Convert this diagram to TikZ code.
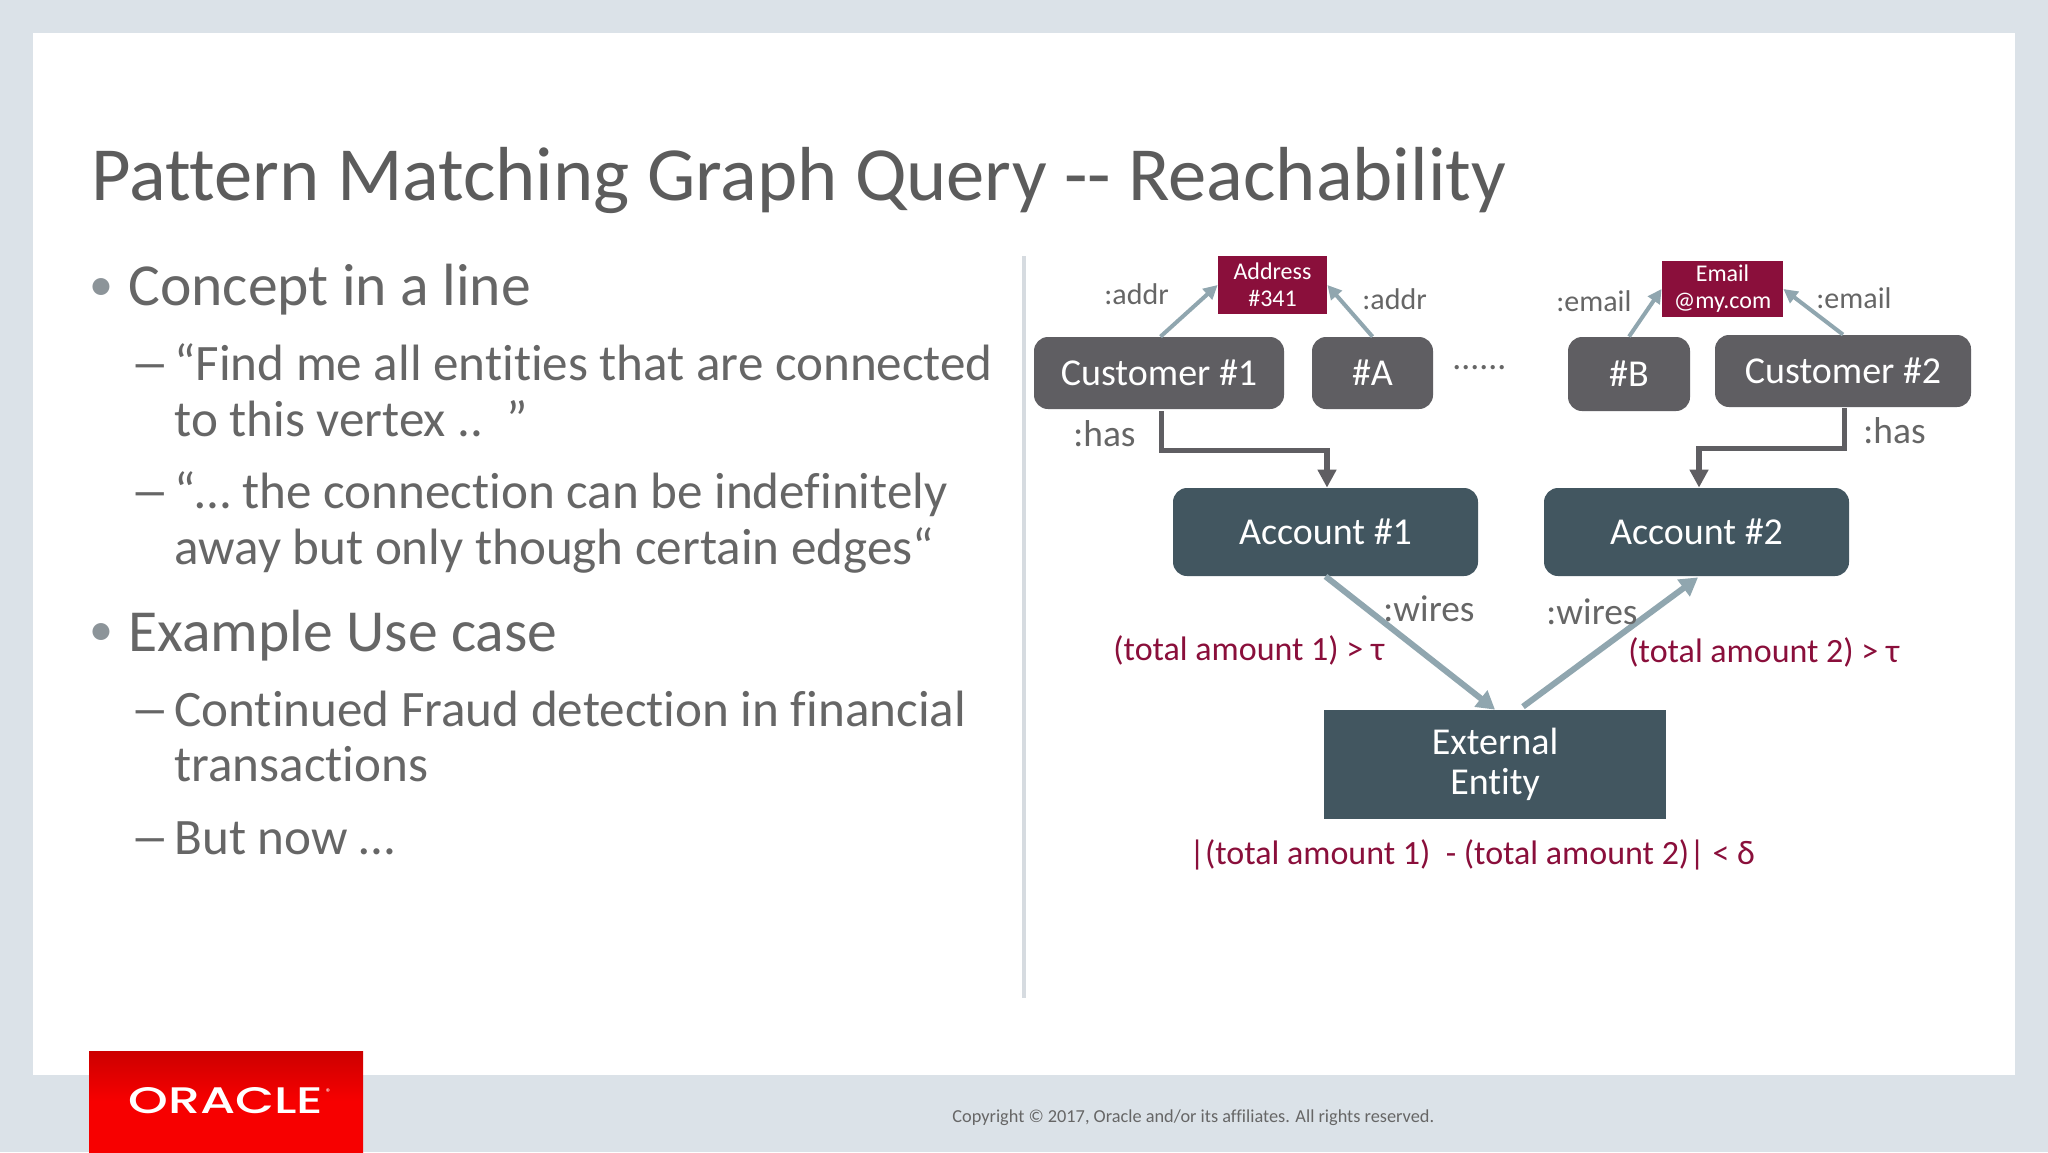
\documentclass[tikz,border=0pt]{standalone}
\usepackage{fontspec}
\setmainfont{Carlito}[Ligatures={NoCommon}]
\newfontfamily\logofont{Poppins Medium}
\usetikzlibrary{arrows.meta,calc}
\definecolor{bgblue}{HTML}{DBE2E8}
\definecolor{inktext}{HTML}{666666}
\definecolor{titleink}{HTML}{5C5C5C}
\definecolor{custgray}{HTML}{5F5E62}
\definecolor{acctslate}{HTML}{425660}
\definecolor{arrowblue}{HTML}{90A6AF}
\definecolor{maroon}{HTML}{8A0F3B}
\definecolor{rulegray}{HTML}{D6DBE0}
\definecolor{dotgray}{HTML}{8C9499}
\tikzset{
  cust/.style={fill=custgray,text=white,rounded corners=7pt,inner sep=0pt,font=\fontsize{19}{20}\selectfont},
  acct/.style={fill=acctslate,text=white,rounded corners=7pt,inner sep=0pt,font=\fontsize{19}{20}\selectfont},
  extbox/.style={fill=acctslate,text=white,inner sep=0pt,align=center,font=\fontsize{19}{20}\selectfont},
  tagbox/.style={fill=maroon,text=white,inner sep=0pt,align=center,font=\fontsize{12}{13.5}\selectfont},
  edgelbl/.style={text=inktext,anchor=base west,inner sep=0pt,font=\fontsize{15}{18}\selectfont},
  has/.style={text=inktext,anchor=base west,inner sep=0pt,font=\fontsize{18.7}{20}\selectfont},
  cond/.style={text=maroon,anchor=base west,inner sep=0pt,font=\fontsize{17}{20}\selectfont},
  bulletone/.style={text=inktext,anchor=base west,inner sep=0pt,font=\fontsize{29.8}{30}\selectfont},
  bullettwo/.style={text=inktext,anchor=base west,inner sep=0pt,font=\fontsize{25.55}{28}\selectfont},
  bulletmark/.style={text=dotgray,anchor=base west,inner sep=0pt,font=\fontsize{24}{30}\selectfont},
  thinarrow/.style={draw=arrowblue,line width=2pt,-{Triangle[length=7pt,width=7pt]}},
  thickarrow/.style={draw=arrowblue,line width=3pt,-{Triangle[length=9pt,width=10pt]}},
  elbow/.style={draw=custgray,line width=2.8pt,-{Triangle[length=9pt,width=9pt]}},
}
\newcommand{\longdash}{\scalebox{1.55}[1]{–}}
\begin{document}
\begin{tikzpicture}[x=0.5pt,y=-0.5pt]
\useasboundingbox (0,0) rectangle (2048,1152);
\fill[bgblue] (0,0) rectangle (2048,1152);
\fill[white] (33,33) rectangle (2015,1075);
\draw[rulegray,line width=2pt] (1024,256) -- (1024,998);
\node[text=titleink,anchor=base west,inner sep=0pt,font=\fontsize{38.3}{40}\selectfont] (title) at (91,200) {Pattern Matching Graph Query {-}{-} Reachability};

\node[bulletmark] (b1) at (89,300) {•};
\node[bulletone] (c1) at (128,305) {Concept in a line};
\node[bullettwo] (d1) at (130,380) {\longdash};
\node[bullettwo] (t1) at (174,380) {“Find me all entities that are connected};
\node[bullettwo] (t1b) at (174,436) {to this vertex ..\ \ ”};
\node[bullettwo] (d2) at (130,508) {\longdash};
\node[bullettwo] (t2) at (174,508) {“… the connection can be indefinitely};
\node[bullettwo] (t2b) at (174,564) {away but only though certain edges“};
\node[bulletmark] (b2) at (89,645) {•};
\node[bulletone] (c2) at (128,651) {Example Use case};
\node[bullettwo] (d3) at (130,726) {\longdash};
\node[bullettwo] (t3) at (174,726) {Continued Fraud detection in financial};
\node[bullettwo] (t3b) at (174,781) {transactions};
\node[bullettwo] (d4) at (130,854) {\longdash};
\node[bullettwo] (t4) at (174,854) {But now …};

\node[cust,minimum width=125pt,minimum height=36pt] (cust1) at (1159,373) {Customer \#1};
\node[cust,minimum width=60.5pt,minimum height=36pt] (nodeA) at (1372.5,373) {\#A};
\node[cust,minimum width=61pt,minimum height=37pt] (nodeB) at (1629,374) {\#B};
\node[cust,minimum width=128pt,minimum height=36pt] (cust2) at (1843,371) {Customer \#2};
\node[tagbox,minimum width=54.5pt,minimum height=29pt] (addr) at (1272.5,285) {Address\\\#341};
\node[tagbox,minimum width=60.5pt,minimum height=28pt] (email) at (1722.5,289) {Email\\@my.com};
\node[acct,minimum width=152.5pt,minimum height=44pt] (acct1) at (1325.5,532) {Account \#1};
\node[acct,minimum width=152.5pt,minimum height=44pt] (acct2) at (1696.5,532) {Account \#2};
\node[extbox,minimum width=171pt,minimum height=54.5pt] (ext) at (1495,764.5) {External\\Entity};

\draw[thinarrow] ($(cust1.north)+(1.5,0)$) -- (addr.west);
\draw[thinarrow] (nodeA.north) -- (addr.east);
\draw[thinarrow] (nodeB.north) -- (email.west);
\draw[thinarrow] (cust2.north) -- (email.east);
\coordinate (has1top) at ($(cust1.south)+(2.5,2)$);
\coordinate (has2top) at ($(cust2.south)+(1.5,1)$);
\coordinate (has1mid) at ($(has1top)+(0,39)$);
\coordinate (has2mid) at ($(has2top)+(0,40)$);
\coordinate (has1end) at ($(acct1.north)+(1.5,0)$);
\coordinate (has2end) at ($(acct2.north)+(2.5,0)$);
\draw[elbow] (has1top) -- (has1mid) -| (has1end);
\draw[elbow] (has2top) -- (has2mid) -| (has2end);
\coordinate (wirefrom) at ($(ext.north)+(28,-3)$);
\coordinate (wireto) at ($(acct2.south)+(1.5,1)$);
\draw[thickarrow] (acct1.south) -- (ext.north);
\draw[thickarrow] (wirefrom) -- (wireto);

\node[edgelbl] (l1) at (1104,304) {:addr};
\node[edgelbl] (l2) at (1362,309) {:addr};
\node[edgelbl] (l3) at (1556,311) {:email};
\node[edgelbl] (l4) at (1816,308) {:email};
\node[edgelbl,font=\fontsize{17.8}{20}\selectfont] (dots) at (1452,369) {......};
\node[has] (l5) at (1073,446) {:has};
\node[has] (l6) at (1863,443) {:has};
\node[has] (l7) at (1383,621) {:wires};
\node[has] (l8) at (1546,624) {:wires};
\node[cond] (c1a) at (1113,660) {(total amount 1) > τ};
\node[cond] (c2a) at (1628,662) {(total amount 2) > τ};
\node[cond] (c3a) at (1189,864) {|(total amount 1)\ \ - (total amount 2)| < δ};

\fill[top color=red!80!black,bottom color=red!97!black,middle color=red!97!black] (89,1051) rectangle (363,1152);
\node[text=white,anchor=south west,inner sep=0pt,font=\logofont] (logo) at (128,1114) {\resizebox{97.5pt}{13pt}{ORACLE}};
\node[text=white,inner sep=0pt,font=\logofont\fontsize{4}{4}\selectfont] (reg) at (328,1092) {®};
\node[text=inktext,anchor=base west,inner sep=0pt,font=\fontsize{9.15}{12}\selectfont] (copy) at (952,1122) {Copyright © 2017, Oracle and/or its affiliates. All rights reserved.};
\end{tikzpicture}
\end{document}
